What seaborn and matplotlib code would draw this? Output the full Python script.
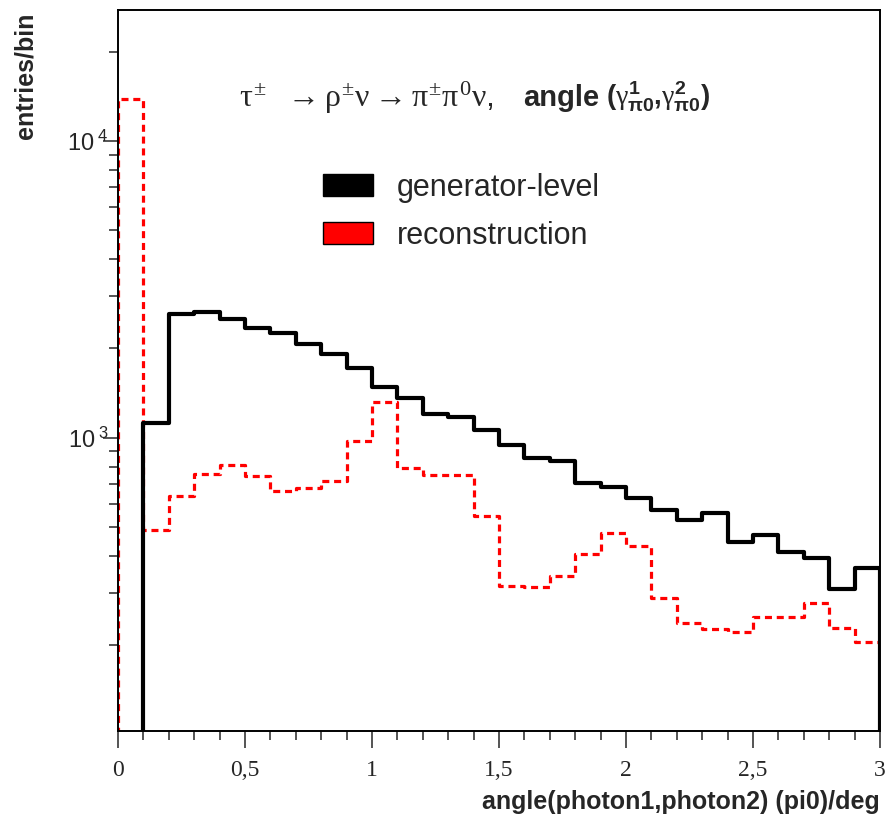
import numpy as np
import pandas as pd
import matplotlib
matplotlib.use("Agg")
import matplotlib.pyplot as plt
import seaborn as sns
from matplotlib.patches import Patch
from matplotlib.ticker import FixedLocator, FixedFormatter, LogLocator, NullFormatter

# ---- data (entries per 0.1 deg bin, histogram range 0..3) ----
bin_width = 0.1
x_range = (0.0, 3.0)
generator = [0, 1124, 2617, 2652, 2518, 2345, 2258, 2071, 1918, 1722,
             1489, 1364, 1205, 1178, 1064, 947, 857, 838, 705, 684,
             628, 573, 530, 558, 447, 471, 413, 394, 310, 365]
reconstruction = [13840, 490, 638, 756, 811, 745, 663, 680, 716, 977,
                  1322, 793, 752, 752, 546, 318, 315, 343, 406, 479,
                  433, 289, 238, 228, 222, 250, 250, 278, 229, 206]
x_ticks = [0, 0.5, 1, 1.5, 2, 2.5, 3]
x_tick_labels = ["0", "0,5", "1", "1,5", "2", "2,5", "3"]
y_ticks = [1e3, 1e4]
y_tick_labels = [r"$\mathregular{10^{\ 3}}$", r"$\mathregular{10^{\ 4}}$"]
series_names = ["generator-level", "reconstruction"]

n_bins = len(generator)
centers = x_range[0] + bin_width * (np.arange(n_bins) + 0.5)
df_gen = pd.DataFrame({"angle": centers, "entries": generator})
df_rec = pd.DataFrame({"angle": centers, "entries": reconstruction})
# one empty under/overflow bin on each side so the outline closes at the edges
hist_range = (x_range[0] - bin_width, x_range[1] + bin_width)

sns.set_style("white")
plt.rcParams["font.family"] = ["Liberation Sans", "DejaVu Sans"]
plt.rcParams["mathtext.fontset"] = "custom"
plt.rcParams["mathtext.rm"] = "Liberation Serif"
plt.rcParams["mathtext.it"] = "Liberation Serif"
plt.rcParams["mathtext.bf"] = "Liberation Sans:bold"
plt.rcParams["mathtext.sf"] = "Liberation Sans:bold"

fig = plt.figure(figsize=(8.85, 8.16), dpi=100)
ax = fig.add_axes([118 / 885, 1 - 731 / 816, (880 - 118) / 885, (731 - 10) / 816])

sns.histplot(data=df_rec, x="angle", weights="entries", binwidth=bin_width,
             binrange=hist_range, element="step", fill=False, color="#ff0000",
             linewidth=2.3, linestyle=(0, (2.2, 1.5)), ax=ax)
sns.histplot(data=df_gen, x="angle", weights="entries", binwidth=bin_width,
             binrange=hist_range, element="step", fill=False, color="black",
             linewidth=3.0, ax=ax)

ax.set_yscale("log")
ax.set_xlim(*x_range)
ax.set_ylim(103, 27600)

for s in ax.spines.values():
    s.set_linewidth(1.4)
    s.set_color("black")

ax.xaxis.set_major_locator(FixedLocator(x_ticks))
ax.xaxis.set_major_formatter(FixedFormatter(x_tick_labels))
ax.xaxis.set_minor_locator(FixedLocator(np.round(np.arange(0, 3.01, 0.1), 2)))
ax.yaxis.set_major_locator(FixedLocator(y_ticks))
ax.yaxis.set_major_formatter(FixedFormatter(y_tick_labels))
ax.yaxis.set_minor_locator(LogLocator(base=10, subs=np.arange(2, 10)))
ax.yaxis.set_minor_formatter(NullFormatter())

ax.tick_params(axis="x", which="major", direction="out", length=12, width=1.1,
               bottom=True, top=False, pad=9, labelsize=17)
ax.tick_params(axis="x", which="minor", direction="out", length=6.5, width=1.1,
               bottom=True, top=False)
ax.tick_params(axis="y", which="major", direction="out", length=11, width=1.1,
               left=True, right=False, pad=-4.5, labelsize=17)
ax.tick_params(axis="y", which="minor", direction="out", length=6.5, width=1.1,
               left=True, right=False)
for lab in ax.get_xticklabels():
    lab.set_family("Liberation Serif")

ax.set_xlabel("")
ax.set_ylabel("")
fig.text(880 / 885, 1 - 802 / 816, "angle(photon1,photon2) (pi0)/deg",
         ha="right", va="center", fontsize=18, fontweight="bold")
fig.text(25 / 885, 1 - 13 / 816, "entries/bin", rotation=90, ha="center",
         va="top", fontsize=18, fontweight="bold")

# title
fig.text(494 / 885, 1 - 107 / 816,
         r"$\tau^{\pm}\ \ \rightarrow\rho^{\pm}\nu\rightarrow\pi^{\pm}\pi^{0}\nu$,",
         ha="right", va="baseline", fontsize=23)
fig.text(523 / 885, 1 - 106 / 816, "angle",
         ha="left", va="baseline", fontsize=21, fontweight="bold")
fig.text(606 / 885, 1 - 106 / 816,
         r"$\mathbf{(}\gamma^{\mathbf{1}}_{\mathbf{\pi0}}\mathbf{,}\gamma^{\mathbf{2}}_{\mathbf{\pi0}}\mathbf{)}$",
         ha="left", va="baseline", fontsize=20, fontweight="bold")

handles = [Patch(facecolor="black", edgecolor="black"),
           Patch(facecolor="#ff0000", edgecolor="black")]
ax.legend(handles, series_names, loc="upper left",
          bbox_to_anchor=(323 / 885, 1 - 173 / 816), bbox_transform=fig.transFigure,
          frameon=False, fontsize=22, handlelength=1.63, handleheight=0.72,
          handletextpad=0.78, labelspacing=0.58, borderpad=0, borderaxespad=0)

fig.savefig("out.png", dpi=100)
